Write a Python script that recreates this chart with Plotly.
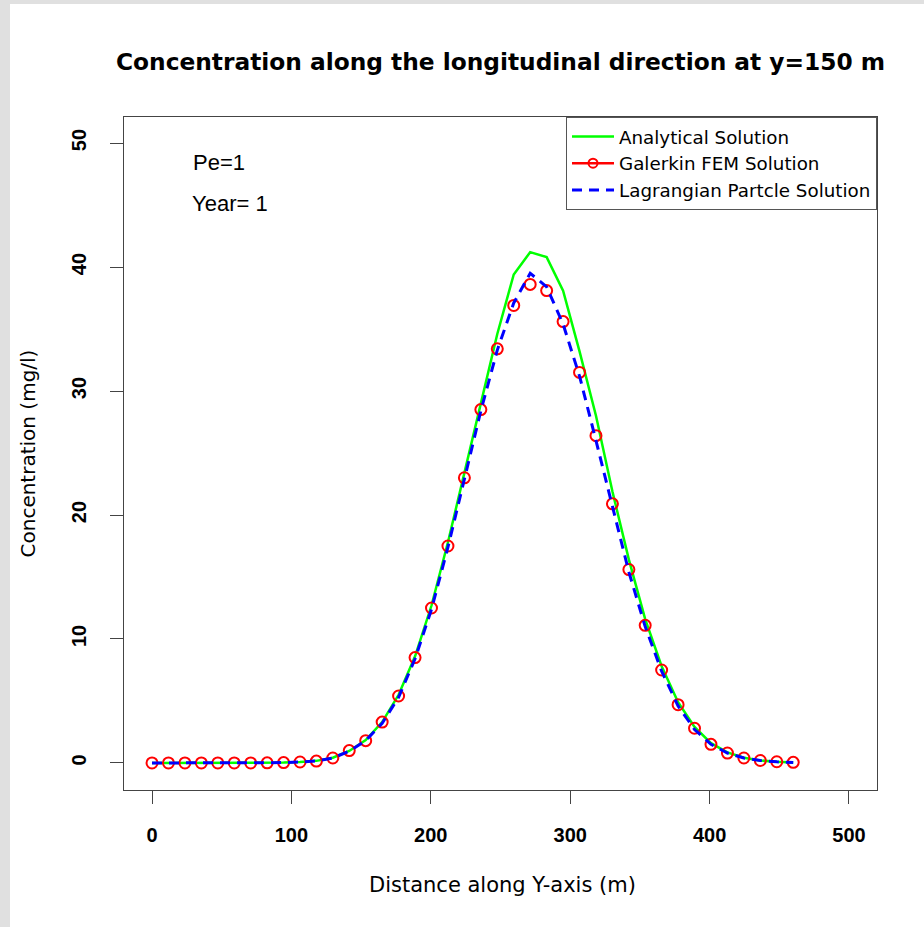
import plotly.graph_objects as go

# Distance along the Y-axis (m) at each grid node
distance_m = [0.0, 11.8, 23.6, 35.4, 47.2, 59.0, 70.8, 82.6, 94.4, 106.2,
              117.9, 129.7, 141.5, 153.3, 165.1, 176.9, 188.7, 200.5, 212.3, 224.1,
              235.9, 247.7, 259.5, 271.3, 283.1, 294.9, 306.7, 318.5, 330.3, 342.1,
              353.8, 365.6, 377.4, 389.2, 401.0, 412.8, 424.6, 436.4, 448.2, 460.0]

# Concentration (mg/l) for each method
analytical = [0, 0, 0, 0, 0, 0, 0, 0.01, 0.03, 0.08,
              0.17, 0.42, 0.97, 1.85, 3.3, 5.5, 8.6, 12.7, 17.8, 23.4,
              29.1, 34.6, 39.4, 41.2, 40.8, 38.1, 33.2, 28.0, 21.9, 16.4,
              11.6, 7.8, 4.9, 2.9, 1.6, 0.85, 0.42, 0.2, 0.09, 0.04]
galerkin_fem = [0, 0, 0, 0, 0, 0, 0, 0.01, 0.03, 0.08,
                0.15, 0.4, 1.0, 1.8, 3.3, 5.4, 8.5, 12.5, 17.5, 23.0,
                28.5, 33.4, 36.9, 38.6, 38.1, 35.6, 31.5, 26.4, 20.9, 15.6,
                11.1, 7.5, 4.7, 2.8, 1.5, 0.8, 0.4, 0.2, 0.1, 0.05]
lagrangian = [0, 0, 0, 0, 0, 0, 0, 0.01, 0.03, 0.08,
              0.16, 0.4, 0.95, 1.8, 3.2, 5.3, 8.4, 12.4, 17.4, 22.9,
              28.4, 33.3, 37.1, 39.5, 38.4, 35.4, 31.2, 26.0, 20.6, 15.4,
              11.0, 7.4, 4.6, 2.7, 1.5, 0.8, 0.4, 0.2, 0.09, 0.04]

series_names = ["Analytical Solution", "Galerkin FEM Solution", "Lagrangian Partcle Solution"]
x_ticks = [0, 100, 200, 300, 400, 500]
y_ticks = [0, 10, 20, 30, 40, 50]
notes = ["Pe=1", "Year= 1"]

TEXT_FONT = "DejaVu Sans"
ARIAL = "Arial, Liberation Sans, sans-serif"

fig = go.Figure()

fig.add_trace(go.Scatter(
    x=distance_m, y=analytical, mode="lines", name=series_names[0],
    line=dict(color="#00FF00", width=2.5),
))
# FEM nodes drawn as open circles only
fig.add_trace(go.Scatter(
    x=distance_m, y=galerkin_fem, mode="markers", name=series_names[1],
    showlegend=False,
    marker=dict(symbol="circle-open", size=11, color="#FF0000",
                line=dict(width=2, color="#FF0000")),
))
# legend key for the FEM series: line through an open circle
fig.add_trace(go.Scatter(
    x=[None], y=[None], mode="lines+markers", name=series_names[1],
    line=dict(color="#FF0000", width=2.5),
    marker=dict(symbol="circle-open", size=9, color="#FF0000",
                line=dict(width=2, color="#FF0000")),
))
fig.add_trace(go.Scatter(
    x=distance_m, y=lagrangian, mode="lines", name=series_names[2],
    line=dict(color="#0000FF", width=3, dash="10px,7px"),
))

axis_common = dict(
    showgrid=False, zeroline=False,
    showline=True, linecolor="#444444", linewidth=1, mirror=True,
    ticks="outside", ticklen=13, tickwidth=1, tickcolor="#444444",
    tickfont=dict(family=ARIAL, size=20, color="#000000", weight="bold"),
)

fig.update_xaxes(range=[-20.1, 520.1], tickvals=x_ticks,
                 ticktext=[str(v) for v in x_ticks],
                 ticklabelstandoff=14, **axis_common)
fig.update_yaxes(range=[-2.18, 52.1], tickvals=y_ticks,
                 ticktext=[str(v) for v in y_ticks], tickangle=-90,
                 ticklabelstandoff=16, **axis_common)

annotations = [
    dict(text="Distance along Y-axis (m)", xref="paper", yref="paper",
         x=0.502, y=-0.141, xanchor="center", yanchor="middle", showarrow=False,
         font=dict(family=TEXT_FONT, size=21, color="#000000")),
    dict(text="Concentration (mg/l)", xref="paper", yref="paper",
         x=-0.1275, y=0.5, xanchor="center", yanchor="middle", showarrow=False,
         textangle=-90, font=dict(family=TEXT_FONT, size=20, color="#000000")),
    dict(text=notes[0], xref="x", yref="y", x=28, y=48.4,
         xanchor="left", yanchor="middle", showarrow=False,
         font=dict(family=ARIAL, size=22, color="#000000")),
    dict(text=notes[1], xref="x", yref="y", x=27, y=45.1,
         xanchor="left", yanchor="middle", showarrow=False,
         font=dict(family=ARIAL, size=22, color="#000000")),
]

# light grey window edge along the left and top of the page
shapes = [
    dict(type="rect", xref="paper", yref="paper", x0=-0.1647, x1=-0.1514,
         y0=-0.21, y1=1.18, fillcolor="#E0E0E0", line=dict(width=0), layer="below"),
    dict(type="rect", xref="paper", yref="paper", x0=-0.1647, x1=1.07,
         y0=1.1679, y1=1.18, fillcolor="#E0E0E0", line=dict(width=0), layer="below"),
]

fig.update_layout(
    width=924, height=927,
    margin=dict(l=124, r=47, t=117, b=137),
    paper_bgcolor="#FFFFFF", plot_bgcolor="#FFFFFF",
    title=dict(text="Concentration along the longitudinal direction at y=150 m",
               x=0.5, xref="paper", xanchor="center",
               y=1 - 62 / 927, yref="container", yanchor="middle",
               font=dict(family=TEXT_FONT, size=23.3, color="#000000", weight="bold")),
    legend=dict(x=1, xanchor="right", y=1, yanchor="top",
                bgcolor="#FFFFFF", bordercolor="#555555", borderwidth=1,
                font=dict(family=TEXT_FONT, size=18.3, color="#000000"),
                itemwidth=42, tracegroupgap=0),
    annotations=annotations,
    shapes=shapes,
    showlegend=True,
)

fig.write_html("out.html")
